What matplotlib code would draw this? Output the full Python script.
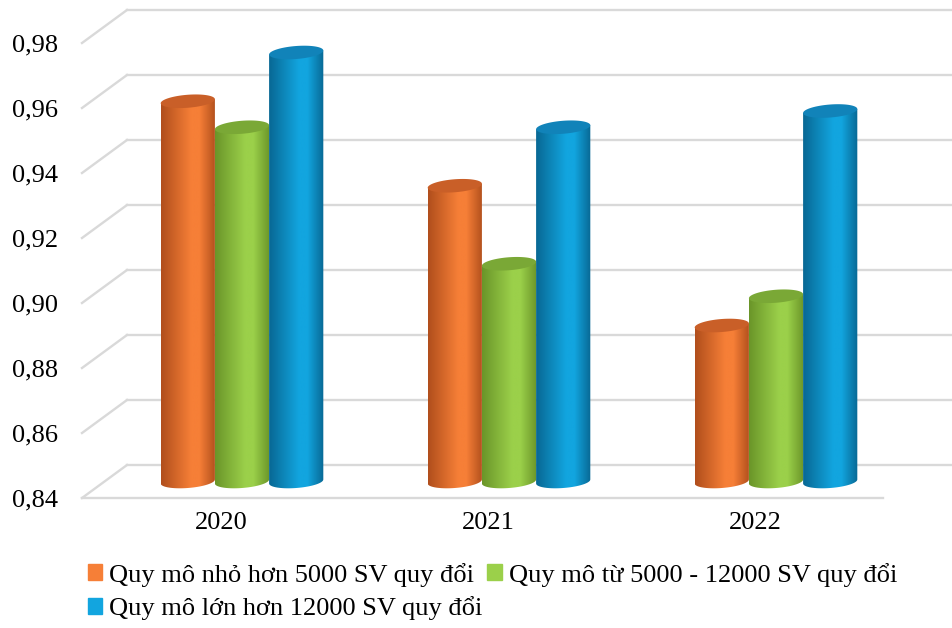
import numpy as np
import matplotlib
matplotlib.use("Agg")
import matplotlib.pyplot as plt
from matplotlib.patches import PathPatch, Polygon, Rectangle
from matplotlib.path import Path
from matplotlib.colors import LinearSegmentedColormap
import matplotlib.transforms as mtransforms

plt.rcParams['font.family'] = ['Liberation Serif', 'DejaVu Serif']

YEARS = ['2020', '2021', '2022']
SERIES = ['Quy mô nhỏ hơn 5000 SV quy đổi',
          'Quy mô từ 5000 - 12000 SV quy đổi',
          'Quy mô lớn hơn 12000 SV quy đổi']
small = [0.957, 0.931, 0.888]
medium = [0.949, 0.907, 0.897]
large = [0.972, 0.949, 0.954]
Y_TICKS = [0.84, 0.86, 0.88, 0.90, 0.92, 0.94, 0.96, 0.98]

# (dark edge, highlight, top face) for each cylinder colour
SHADES = [('#b04e1c', '#f67f37', '#c95f28'),
          ('#6a9529', '#9bd04a', '#7aa836'),
          ('#086894', '#12a5df', '#1183b9')]
GRID = '#d9d9d9'

fig = plt.figure(figsize=(9.53, 6.28), dpi=100)
ax = fig.add_axes([82 / 953, 130 / 628, 801 / 953, 455 / 628])
ax.set_xlim(0, 3)
ax.set_ylim(Y_TICKS[0], Y_TICKS[-1])
for s in ax.spines.values():
    s.set_visible(False)

# depth of the 3d box (back wall) and the plane where the bars stand
back = ax.transData + mtransforms.ScaledTranslation(0.45, 0.33, fig.dpi_scale_trans)
mid = ax.transData + mtransforms.ScaledTranslation(0.265, 0.165, fig.dpi_scale_trans)

# back wall grid, left wall slants, floor front edge
for v in Y_TICKS:
    ax.plot([0, 3.2], [v, v], color=GRID, lw=1.7, transform=back, clip_on=False, zorder=1)
    p0 = ax.transData.transform((0, v))
    p1 = back.transform((0, v))
    ax.plot([p0[0], p1[0]], [p0[1], p1[1]], color=GRID, lw=1.7,
            transform=None, clip_on=False, zorder=1)
ax.plot([0, 3], [Y_TICKS[0], Y_TICKS[0]], color=GRID, lw=1.7, clip_on=False, zorder=1)

px = (Y_TICKS[-1] - Y_TICKS[0]) / 455.0
ry = 6.5 * px
tilt = 2.0 * px
bw = 0.203
base = Y_TICKS[0]


def ring(xc, y, t):
    xs = xc + bw / 2 * np.cos(t)
    ys = y + ry * np.sin(t) + tilt * np.cos(t)
    return np.column_stack([xs, ys])


def cylinder(xc, top, shade, z):
    dark, light, topc = shade
    cmap = LinearSegmentedColormap.from_list(
        'cyl', [(0, dark), (0.55, light), (0.7, light), (1, dark)])
    x0, x1 = xc - bw / 2, xc + bw / 2
    arc = ring(xc, base, np.linspace(np.pi, 2 * np.pi, 40))
    verts = np.vstack([[x0, top - tilt], arc, [x1, top + tilt], [x0, top - tilt]])
    clip = PathPatch(Path(verts), transform=mid, facecolor='none', edgecolor='none')
    ax.add_patch(clip)
    grad = np.linspace(0, 1, 256).reshape(1, -1)
    im = ax.imshow(grad, cmap=cmap, aspect='auto',
                   extent=[x0, x1, base - ry - tilt, top + tilt],
                   transform=mid, zorder=z, interpolation='bilinear')
    im.set_clip_path(clip)
    cap = ring(xc, top, np.linspace(0, 2 * np.pi, 80))
    ax.add_patch(Polygon(cap, closed=True, facecolor=topc, edgecolor='none',
                         transform=mid, zorder=z + 0.1, clip_on=False))


for i, vals in enumerate([small, medium, large]):
    for j, v in enumerate(vals):
        cylinder(j + 0.5 + (i - 1) * bw, v, SHADES[i], 3 + j * 3 + i)

ax.set_xlim(0, 3)
ax.set_ylim(Y_TICKS[0], Y_TICKS[-1])
ax.set_xticks([0.5, 1.5, 2.5])
ax.set_xticklabels(YEARS, fontsize=19)
ax.set_yticks(Y_TICKS)
ax.set_yticklabels([f'{v:.2f}'.replace('.', ',') for v in Y_TICKS], fontsize=19)
ax.tick_params(length=0)
ax.tick_params(axis='y', pad=17)
ax.tick_params(axis='x', pad=10)
shift = mtransforms.ScaledTranslation(0.055, 0, fig.dpi_scale_trans)
for lbl in ax.get_xticklabels():
    lbl.set_transform(lbl.get_transform() + shift)

handles = [Rectangle((0, 0), 1, 1, color=SHADES[k][1]) for k in range(3)]
order = [0, 2, 1]
fig.legend([handles[k] for k in order], [SERIES[k] for k in order],
           loc='upper left', bbox_to_anchor=(0.092, 0.104), ncol=2, frameon=False,
           fontsize=19, handlelength=0.55, handleheight=0.55, handletextpad=0.25,
           columnspacing=0.2, labelspacing=0.37, borderpad=0, borderaxespad=0)

fig.savefig('out.png', dpi=100)
